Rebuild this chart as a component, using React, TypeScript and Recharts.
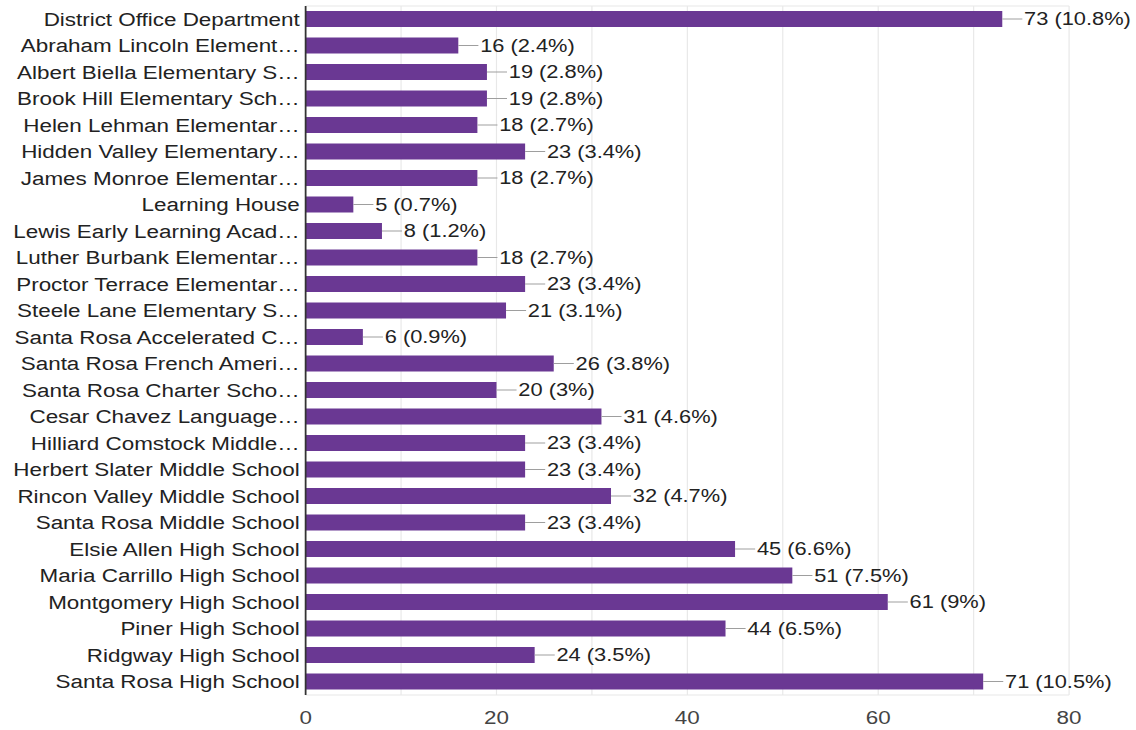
import { BarChart, Bar, XAxis, YAxis, CartesianGrid, LabelList } from 'recharts';

const schools = [
  'District Office Department',
  'Abraham Lincoln Element…',
  'Albert Biella Elementary S…',
  'Brook Hill Elementary Sch…',
  'Helen Lehman Elementar…',
  'Hidden Valley Elementary…',
  'James Monroe Elementar…',
  'Learning House',
  'Lewis Early Learning Acad…',
  'Luther Burbank Elementar…',
  'Proctor Terrace Elementar…',
  'Steele Lane Elementary S…',
  'Santa Rosa Accelerated C…',
  'Santa Rosa French Ameri…',
  'Santa Rosa Charter Scho…',
  'Cesar Chavez Language…',
  'Hilliard Comstock Middle…',
  'Herbert Slater Middle School',
  'Rincon Valley Middle School',
  'Santa Rosa Middle School',
  'Elsie Allen High School',
  'Maria Carrillo High School',
  'Montgomery High School',
  'Piner High School',
  'Ridgway High School',
  'Santa Rosa High School',
];

const counts = [73, 16, 19, 19, 18, 23, 18, 5, 8, 18, 23, 21, 6, 26, 20, 31, 23, 23, 32, 23, 45, 51, 61, 44, 24, 71];

const shares = [
  '10.8%', '2.4%', '2.8%', '2.8%', '2.7%', '3.4%', '2.7%', '0.7%', '1.2%', '2.7%', '3.4%', '3.1%', '0.9%',
  '3.8%', '3%', '4.6%', '3.4%', '3.4%', '4.7%', '3.4%', '6.6%', '7.5%', '9%', '6.5%', '3.5%', '10.5%',
];

const xTicks = [0, 10, 20, 30, 40, 50, 60, 70, 80];

const data = schools.map((name, i) => ({ name, count: counts[i] }));

// the reference is stretched sideways, so draw narrower and scale it back out
const STRETCH = 1.18;
const W = 963;
const H = 730;

const ValueLabel = (props: any) => {
  const { x, y, width, height, index } = props;
  const endX = Number(x) + Number(width);
  const cy = Number(y) + Number(height) / 2;
  return (
    <g>
      <line x1={endX} x2={endX + 17} y1={cy} y2={cy} stroke="#9e9e9e" strokeWidth={1} />
      <text x={endX + 18.5} y={cy} dominantBaseline="central" fontSize={18.5} fill="#222">
        {`${counts[index]} (${shares[index]})`}
      </text>
    </g>
  );
};

export default function App() {
  return (
    <div
      style={{
        position: 'absolute',
        left: 0,
        top: 0,
        width: 1136,
        height: 730,
        overflow: 'hidden',
        background: '#fff',
        fontFamily: '"Liberation Sans", Arial, sans-serif',
      }}
    >
      <div style={{ width: W, transform: `scaleX(${STRETCH})`, transformOrigin: '0 0' }}>
        <BarChart
          width={W}
          height={H}
          data={data}
          layout="vertical"
          margin={{ top: 6, right: 57, bottom: 0, left: 0 }}
        >
          <CartesianGrid
            stroke="#e8e8e8"
            horizontalCoordinatesGenerator={({ offset }: any) => [offset.top, offset.top + offset.height]}
          />
          <XAxis
            type="number"
            domain={[0, 80]}
            ticks={xTicks}
            interval={0}
            height={35}
            tickFormatter={(v: number) => (v % 20 === 0 ? String(v) : '')}
            axisLine={false}
            tickLine={false}
            tickSize={0}
            tickMargin={16}
            tick={{ fontSize: 19, fill: '#444' }}
          />
          <YAxis
            type="category"
            dataKey="name"
            width={259}
            interval={0}
            axisLine={{ stroke: '#333', strokeWidth: 1.5 }}
            tickLine={false}
            tickSize={0}
            tickMargin={5}
            tick={{ fontSize: 19, fill: '#222' }}
          />
          <Bar dataKey="count" fill="#6a3893" barSize={16} isAnimationActive={false}>
            <LabelList dataKey="count" content={ValueLabel} />
          </Bar>
        </BarChart>
      </div>
    </div>
  );
}
